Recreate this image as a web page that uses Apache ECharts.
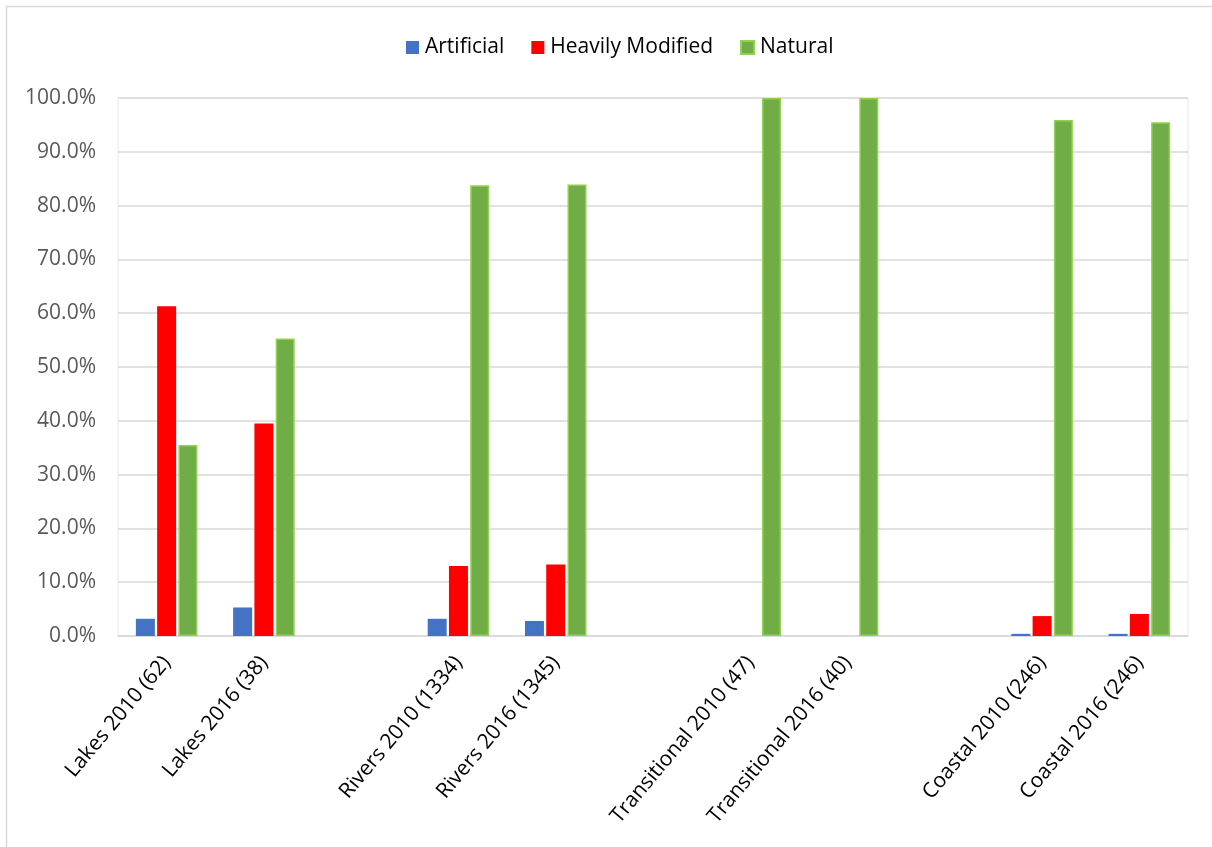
<!DOCTYPE html>
<html>
<head>
<meta charset="utf-8">
<script src="https://cdn.jsdelivr.net/npm/echarts@6/dist/echarts.min.js"></script>
<style>
  html, body { margin: 0; padding: 0; background: #ffffff; }
  #chart { width: 1212px; height: 847px; }
</style>
</head>
<body>
<div id="chart"></div>
<script>
// Water body designation shares (%) per category and reporting year.
// Empty strings are spacer slots between water body types.
const categories = [
  'Lakes 2010 (62)', 'Lakes 2016 (38)', '',
  'Rivers 2010 (1334)', 'Rivers 2016 (1345)', '',
  'Transitional 2010 (47)', 'Transitional 2016 (40)', '',
  'Coastal 2010 (246)', 'Coastal 2016 (246)'
];
const artificial      = [3.2, 5.3, null, 3.2, 2.8, null, 0, 0, null, 0.4, 0.4];
const heavilyModified = [61.3, 39.5, null, 13.0, 13.3, null, 0, 0, null, 3.7, 4.1];
const natural         = [35.5, 55.3, null, 83.8, 83.9, null, 100, 100, null, 95.9, 95.5];
const seriesNames = ['Artificial', 'Heavily Modified', 'Natural'];

const FONT = '"Open Sans", Lato, sans-serif';

const chart = echarts.init(document.getElementById('chart'), null, { renderer: 'canvas' });

function barSeries(name, data, color, border) {
  return {
    name: name,
    type: 'bar',
    data: data,
    barWidth: 19,
    barGap: '12%',
    itemStyle: border
      ? { color: color, borderColor: border, borderWidth: 1.5 }
      : { color: color },
    emphasis: { disabled: true }
  };
}

chart.setOption({
  animation: false,
  backgroundColor: '#ffffff',
  graphic: [{
    type: 'rect',
    shape: { x: 6.5, y: 6.5, width: 1220, height: 860 },
    style: { fill: 'none', stroke: '#d9d9d9', lineWidth: 1.5 },
    silent: true
  }],
  legend: {
    top: 32,
    left: 401,
    itemWidth: 13,
    itemHeight: 13,
    itemGap: 27,
    icon: 'rect',
    textStyle: { fontFamily: FONT, fontSize: 21, color: '#000000', padding: [0, 0, 0, 1] },
    data: seriesNames
  },
  grid: {
    left: 118,
    right: 24,
    top: 98,
    bottom: 211,
    show: true,
    borderColor: '#e8e8e8',
    borderWidth: 1
  },
  xAxis: {
    type: 'category',
    data: categories,
    axisLine: { show: true, lineStyle: { color: '#d9d9d9', width: 1.5 } },
    axisTick: { show: false },
    axisLabel: {
      interval: 0,
      rotate: 50,
      margin: 23,
      fontFamily: FONT,
      fontSize: 21,
      color: '#000000'
    }
  },
  yAxis: {
    type: 'value',
    min: 0,
    max: 100,
    interval: 10,
    axisLine: { show: false },
    axisTick: { show: false },
    splitLine: { lineStyle: { color: '#d9d9d9', width: 1.5 } },
    axisLabel: {
      margin: 22,
      fontFamily: FONT,
      fontSize: 21,
      color: '#595959',
      formatter: v => v.toFixed(1) + '%'
    }
  },
  series: [
    barSeries(seriesNames[0], artificial, '#4472C4'),
    barSeries(seriesNames[1], heavilyModified, '#FF0000'),
    barSeries(seriesNames[2], natural, '#70AD47', '#92D050')
  ]
});
</script>
</body>
</html>
